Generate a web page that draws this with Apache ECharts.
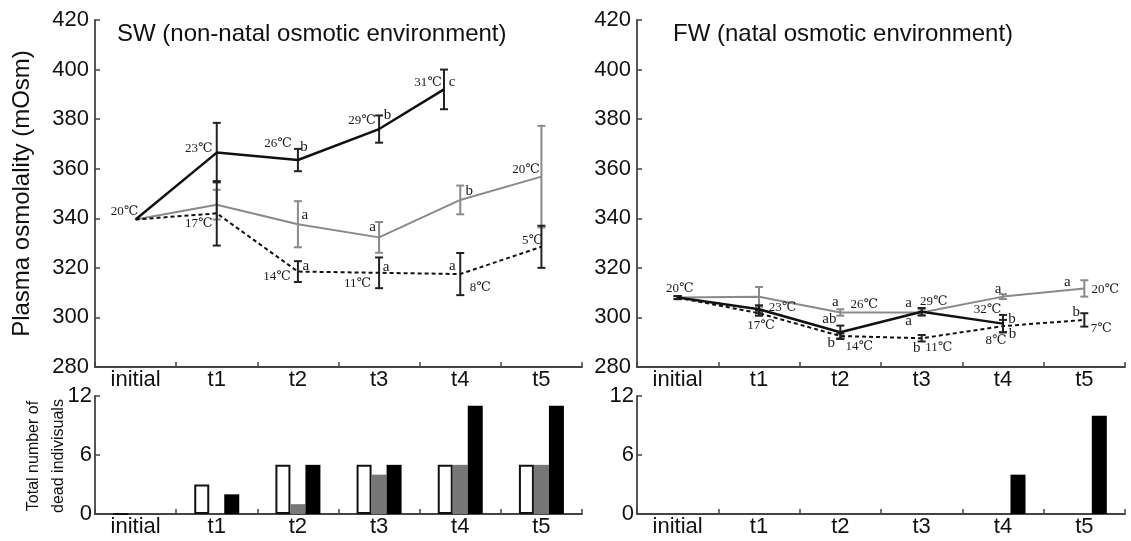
<!DOCTYPE html>
<html>
<head>
<meta charset="utf-8">
<script src="https://cdn.jsdelivr.net/npm/echarts@6/dist/echarts.min.js"></script>
<style>
html,body{margin:0;padding:0;background:#fff;}
#c{width:1131px;height:541px;}
</style>
</head>
<body>
<div id="c"></div>
<script>
// ---------------- data ----------------
const categories = ['initial', 't1', 't2', 't3', 't4', 't5'];
const yTicksTop = [280, 420, 20];   // min, max, step
const yTicksBottom = [0, 12, 6];

// sampling positions (category index; SW warming last sample taken slightly earlier)
const swWarmTime = [0, 1, 2, 3, 3.8];
const stdTime = [0, 1, 2, 3, 4, 5];

// SW plasma osmolality (mean, error)
const swWarmMean = [339.5, 366.5, 363.5, 376, 392];
const swWarmErr  = [0, 12, 4.5, 5.5, 8];
const swAmbMean  = [339.5, 345.5, 337.6, 332.3, 347.4, 356.8];
const swAmbErr   = [0, 6, 9.3, 6.2, 5.8, 20.5];
const swCoolMean = [339.5, 342, 318.5, 318, 317.5, 328.5];
const swCoolErr  = [0, 13, 4.2, 6.2, 8.5, 8.5];

// FW plasma osmolality (mean, error)
const fwWarmMean = [308, 303.3, 294, 302.3, 297.5];
const fwWarmErr  = [0.6, 1.6, 2.7, 1.5, 3.5];
const fwAmbMean  = [308, 308.3, 302, 302, 308.4, 311.7];
const fwAmbErr   = [0.6, 4, 1.3, 1.2, 1, 3.3];
const fwCoolMean = [308, 301.7, 292.5, 291.6, 296.5, 299];
const fwCoolErr  = [0.6, 1, 1, 1.3, 2.5, 2.7];

// dead individuals
const swDeadWhite = [0, 3, 5, 5, 5, 5];
const swDeadGray  = [0, 0, 1, 4, 5, 5];
const swDeadBlack = [0, 2, 5, 5, 11, 11];
const fwDeadWhite = [0, 0, 0, 0, 0, 0];
const fwDeadGray  = [0, 0, 0, 0, 0, 0];
const fwDeadBlack = [0, 0, 0, 0, 4, 10];

// annotation texts: [series, index, text]
const swNotes = [
  ['warm',0,'20℃'], ['warm',1,'23℃'], ['warm',2,'26℃'], ['warm',2,'b'], ['warm',3,'29℃'], ['warm',3,'b'],
  ['warm',4,'31℃'], ['warm',4,'c'],
  ['amb',2,'a'], ['amb',3,'a'], ['amb',4,'b'], ['amb',5,'20℃'],
  ['cool',1,'17℃'], ['cool',2,'14℃'], ['cool',2,'a'], ['cool',3,'11℃'], ['cool',3,'a'],
  ['cool',4,'a'], ['cool',4,'8℃'], ['cool',5,'5℃']
];
const fwNotes = [
  ['warm',0,'20℃'], ['warm',1,'23℃'], ['cool',1,'17℃'], ['amb',2,'a'], ['amb',2,'26℃'], ['warm',2,'ab'],
  ['cool',2,'b'], ['cool',2,'14℃'],
  ['amb',3,'a'], ['warm',3,'29℃'], ['warm',3,'a'], ['cool',3,'b'], ['cool',3,'11℃'],
  ['amb',4,'a'], ['warm',4,'32℃'], ['warm',4,'b'], ['cool',4,'8℃'], ['cool',4,'b'],
  ['amb',5,'a'], ['amb',5,'20℃'], ['cool',5,'b'], ['cool',5,'7℃']
];

// ---------------- layout / style (pixel offsets of the notes) ----------------
const swNoteOffsets = [[-11,-7.5],[-18,-4],[-20,-16],[6,-13],[-17,-8.5],[8.5,-14],[-16,-7],[8,-7],
  [7,-9],[-6.5,-10.5],[9,-9],[-15.5,-7],[-18,10],[-21,5],[8,-5.5],[-21.5,11],[7,-6],[-8,-8],[20,14],[-9,-6]];
const fwNoteOffsets = [[2,-9],[23.5,-2],[2,12],[-5,-10],[24,-8],[-11,-13],[-9,7],[19,11],
  [-13,-9],[12,-10],[-13,9],[-5,10],[17,9],[-5,-8],[-15.5,-13.6],[9,-4.6],[-7,14.6],[9.5,8],
  [-17,-6],[21,1.6],[-8,-8],[17,8.4]];

const SANS = "'Liberation Sans', Arial, Helvetica, sans-serif";
const SERIF = "'Liberation Serif', 'DejaVu Serif', serif";
const AXIS_COLOR = '#444';
const GRAY = '#8a8a8a';

function pts(time, mean) { return mean.map((v, i) => [time[i], v]); }
function errData(time, mean, err) {
  const out = [];
  mean.forEach((v, i) => { if (err[i] > 0) out.push([time[i], v - err[i], v + err[i]]); });
  return out;
}

function lineSeries(xi, yi, time, mean, color, width, type, z) {
  return { type: 'line', xAxisIndex: xi, yAxisIndex: yi, data: pts(time, mean), symbol: 'none',
    lineStyle: { color: color, width: width, type: type }, z: z, animation: false, silent: true };
}
function errSeries(xi, yi, time, mean, err, color, width, z) {
  return {
    type: 'custom', xAxisIndex: xi, yAxisIndex: yi, data: errData(time, mean, err), z: z,
    animation: false, silent: true, clip: false,
    encode: { x: 0, y: [1, 2] },
    renderItem: function (params, api) {
      const x = api.value(0);
      const top = api.coord([x, api.value(2)]);
      const bot = api.coord([x, api.value(1)]);
      const w = 4;
      const st = { stroke: color, lineWidth: width };
      return { type: 'group', children: [
        { type: 'line', shape: { x1: top[0], y1: top[1], x2: bot[0], y2: bot[1] }, style: st },
        { type: 'line', shape: { x1: top[0] - w, y1: top[1], x2: top[0] + w, y2: top[1] }, style: st },
        { type: 'line', shape: { x1: bot[0] - w, y1: bot[1], x2: bot[0] + w, y2: bot[1] }, style: st }
      ] };
    }
  };
}
function noteSeries(xi, yi, notes, offsets, sets) {
  const data = notes.map(n => {
    const s = sets[n[0]];
    return [s.time[n[1]], s.mean[n[1]]];
  });
  return {
    type: 'custom', xAxisIndex: xi, yAxisIndex: yi, data: data, z: 20, animation: false, silent: true, clip: false,
    renderItem: function (params, api) {
      const p = api.coord([api.value(0), api.value(1)]);
      const o = offsets[params.dataIndex];
      const txt = notes[params.dataIndex][2];
      const size = txt.indexOf('℃') >= 0 ? 13 : 15;
      return { type: 'text', x: p[0] + o[0], y: p[1] + o[1],
        style: { text: txt, fill: '#1a1a1a', font: size + 'px ' + SERIF,
          align: 'center', verticalAlign: 'middle' } };
    }
  };
}

const catAxis = (gi, margin) => ({
  type: 'category', gridIndex: gi, data: categories, boundaryGap: true,
  axisLine: { onZero: false, lineStyle: { color: AXIS_COLOR, width: 1.8 } },
  axisTick: { show: true, inside: true, length: 5, interval: 0, lineStyle: { color: AXIS_COLOR, width: 1.5 } },
  axisLabel: { interval: 0, margin: margin, fontSize: 22, fontFamily: SANS, color: '#111' },
  splitLine: { show: false }
});
const valX = (gi) => ({ type: 'value', gridIndex: gi, min: -0.5, max: 5.5, show: false,
  axisLine: { onZero: false } });
const valY = (gi, t, margin, extra) => Object.assign({
  type: 'value', gridIndex: gi, min: t[0], max: t[1], interval: t[2],
  axisLine: { show: true, onZero: false, lineStyle: { color: AXIS_COLOR, width: 1.8 } },
  axisTick: { show: true, inside: true, length: 5, lineStyle: { color: AXIS_COLOR, width: 1.5 } },
  axisLabel: { margin: margin, fontSize: 22, fontFamily: SANS, color: '#111' },
  splitLine: { show: false }
}, extra || {});

const swSets = { warm: { time: swWarmTime, mean: swWarmMean }, amb: { time: stdTime, mean: swAmbMean }, cool: { time: stdTime, mean: swCoolMean } };
const fwSets = { warm: { time: stdTime, mean: fwWarmMean }, amb: { time: stdTime, mean: fwAmbMean }, cool: { time: stdTime, mean: fwCoolMean } };

function barSeries(xi, yi, data, style) {
  return { type: 'bar', xAxisIndex: xi, yAxisIndex: yi, data: data, barWidth: 15, barGap: '0%',
    itemStyle: style, animation: false, silent: true };
}

const option = {
  backgroundColor: '#fff',
  animation: false,
  title: [
    { text: 'SW (non-natal osmotic environment)', left: 112, top: 17,
      textStyle: { fontSize: 24, fontWeight: 'normal', fontFamily: SANS, color: '#111' } },
    { text: 'FW (natal osmotic environment)', left: 668, top: 17,
      textStyle: { fontSize: 24, fontWeight: 'normal', fontFamily: SANS, color: '#111' } }
  ],
  graphic: [
    { type: 'text', x: 46, y: 456, rotation: Math.PI / 2, silent: true,
      style: { text: 'Total number of\ndead indivisuals', font: '16px ' + SANS, fill: '#111',
        align: 'center', verticalAlign: 'middle', lineHeight: 25 } }
  ],
  grid: [
    { left: 95, top: 20, width: 487, height: 347 },
    { left: 637, top: 20, width: 488, height: 347 },
    { left: 95, top: 396, width: 487, height: 118 },
    { left: 637, top: 396, width: 488, height: 118 }
  ],
  xAxis: [catAxis(0, 2), catAxis(1, 2), catAxis(2, 2), catAxis(3, 2), valX(0), valX(1)],
  yAxis: [
    valY(0, yTicksTop, 6, { name: 'Plasma osmolality (mOsm)', nameLocation: 'middle', nameGap: 61,
      nameTextStyle: { fontSize: 24, fontFamily: SANS, color: '#111' } }),
    valY(1, yTicksTop, 6),
    valY(2, yTicksBottom, 3),
    valY(3, yTicksBottom, 3)
  ],
  series: [
    // SW
    errSeries(4, 0, stdTime, swAmbMean, swAmbErr, GRAY, 2, 3),
    lineSeries(4, 0, stdTime, swAmbMean, GRAY, 2, 'solid', 4),
    errSeries(4, 0, stdTime, swCoolMean, swCoolErr, '#222', 2, 5),
    lineSeries(4, 0, stdTime, swCoolMean, '#111', 2, [4, 3], 6),
    errSeries(4, 0, swWarmTime, swWarmMean, swWarmErr, '#222', 2, 7),
    lineSeries(4, 0, swWarmTime, swWarmMean, '#111', 2.5, 'solid', 8),
    noteSeries(4, 0, swNotes, swNoteOffsets, swSets),
    // FW
    errSeries(5, 1, stdTime, fwAmbMean, fwAmbErr, GRAY, 2, 3),
    lineSeries(5, 1, stdTime, fwAmbMean, GRAY, 2, 'solid', 4),
    errSeries(5, 1, stdTime, fwCoolMean, fwCoolErr, '#222', 2, 5),
    lineSeries(5, 1, stdTime, fwCoolMean, '#111', 2, [4, 3], 6),
    errSeries(5, 1, stdTime, fwWarmMean, fwWarmErr, '#222', 2, 7),
    lineSeries(5, 1, stdTime, fwWarmMean, '#111', 2.5, 'solid', 8),
    noteSeries(5, 1, fwNotes, fwNoteOffsets, fwSets),
    // dead individuals
    barSeries(2, 2, swDeadWhite, { color: '#fff', borderColor: '#111', borderWidth: 2 }),
    barSeries(2, 2, swDeadGray, { color: '#777' }),
    barSeries(2, 2, swDeadBlack, { color: '#000' }),
    barSeries(3, 3, fwDeadWhite, { color: '#fff', borderColor: '#111', borderWidth: 0 }),
    barSeries(3, 3, fwDeadGray, { color: '#777' }),
    barSeries(3, 3, fwDeadBlack, { color: '#000' })
  ]
};

const chart = echarts.init(document.getElementById('c'), null, { renderer: 'canvas' });
chart.setOption(option);
</script>
</body>
</html>
